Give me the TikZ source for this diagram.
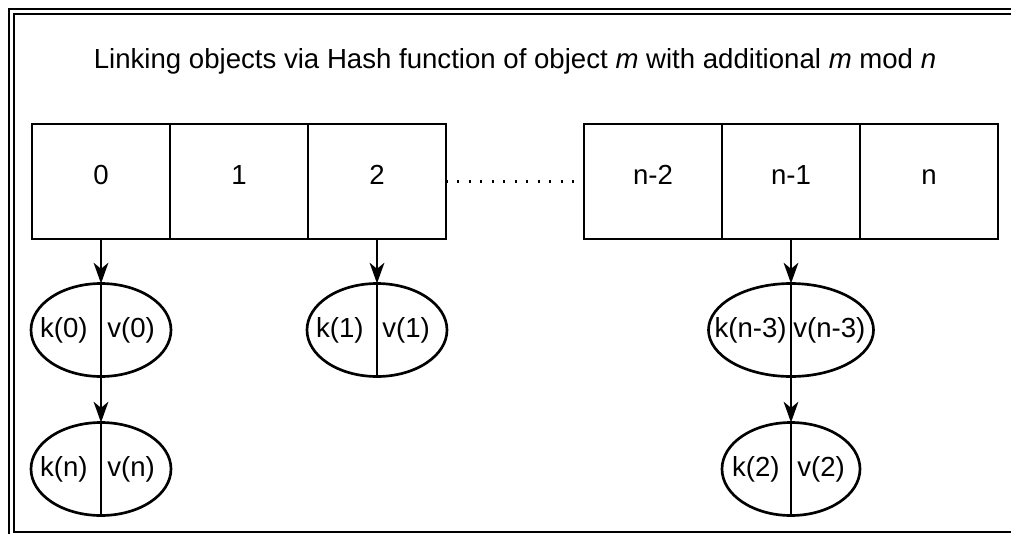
\documentclass[tikz,border=0pt]{standalone}
\usepackage{fontspec}
\setmainfont{Liberation Sans}
\usetikzlibrary{shapes.geometric,arrows.meta,positioning}

\begin{document}
\begin{tikzpicture}[x=0.75pt,y=-0.75pt,line width=2pt,
  font=\fontsize{20.7}{24}\selectfont,
  cell/.style={draw,outer sep=0pt,inner sep=0pt,minimum width=103.5pt,minimum height=86.25pt,
    text height=0.72em,text depth=0.28em},
  pair/.style={draw,ellipse,outer sep=0pt,inner sep=0pt,minimum width=105pt,minimum height=69.75pt},
  part/.style={inner sep=0pt},
  link/.style={-{Stealth[length=15.5pt,width=11pt,inset=4.5pt]}}]
\clip (0,0) rectangle (1011,533);
\path[use as bounding box] (0,0) rectangle (1011,533);
\draw[double,line width=1.5pt,double distance=2.25pt] (11.5,11.5) rectangle (1022,534.5);
\node (title) at (515,61) {Linking objects via Hash function of object \textit{m} with additional \textit{m} mod \textit{n}};
% table of buckets
\node[cell] (c0) at (101,181.5) {0};
\node[cell,right=0pt of c0] (c1) {1};
\node[cell,right=0pt of c1] (c2) {2};
\node[cell] (cn2) at (653,181.5) {n-2};
\node[cell,right=0pt of cn2] (cn1) {n-1};
\node[cell,right=0pt of cn1] (cn) {n};
\draw[dash pattern=on 1.5pt off 7.1pt] (c2.east) -- (cn2.west);
% key / value pairs
\node[pair] (kv0) at (101,330) {};
\node[pair] (kvn) at (101,469) {};
\node[pair] (kv1) at (377,330) {};
\node[pair,minimum width=123.75pt] (kvn3) at (791,330) {};
\node[pair,minimum width=103.5pt] (kv2) at (791,469) {};
\foreach \p in {kv0,kvn,kv1,kvn3,kv2}
  \draw (\p.north) -- (\p.south);
\node[part,anchor=east] (k0) at ([shift={(-12,0)}]kv0.center) {k(0)};
\node[part,anchor=west] (v0) at ([shift={(5,0)}]kv0.center) {v(0)};
\node[part,anchor=east] (kn) at ([shift={(-12,0)}]kvn.center) {k(n)};
\node[part,anchor=west] (vn) at ([shift={(5,0)}]kvn.center) {v(n)};
\node[part,anchor=east] (k1) at ([shift={(-12,0)}]kv1.center) {k(1)};
\node[part,anchor=west] (v1) at ([shift={(4,0)}]kv1.center) {v(1)};
\node[part,anchor=east] (kn3) at ([shift={(-3,0)}]kvn3.center) {k(n-3)};
\node[part,anchor=west] (vn3) at ([shift={(1,0)}]kvn3.center) {v(n-3)};
\node[part,anchor=east] (k2) at ([shift={(-10,0)}]kv2.center) {k(2)};
\node[part,anchor=west] (v2) at ([shift={(5,0)}]kv2.center) {v(2)};
% links
\draw[link] (c0.south) -- (kv0.north);
\draw[link] (kv0.south) -- (kvn.north);
\draw[link] (c2.south) -- (kv1.north);
\draw[link] (cn1.south) -- (kvn3.north);
\draw[link] (kvn3.south) -- (kv2.north);
\end{tikzpicture}
\end{document}
